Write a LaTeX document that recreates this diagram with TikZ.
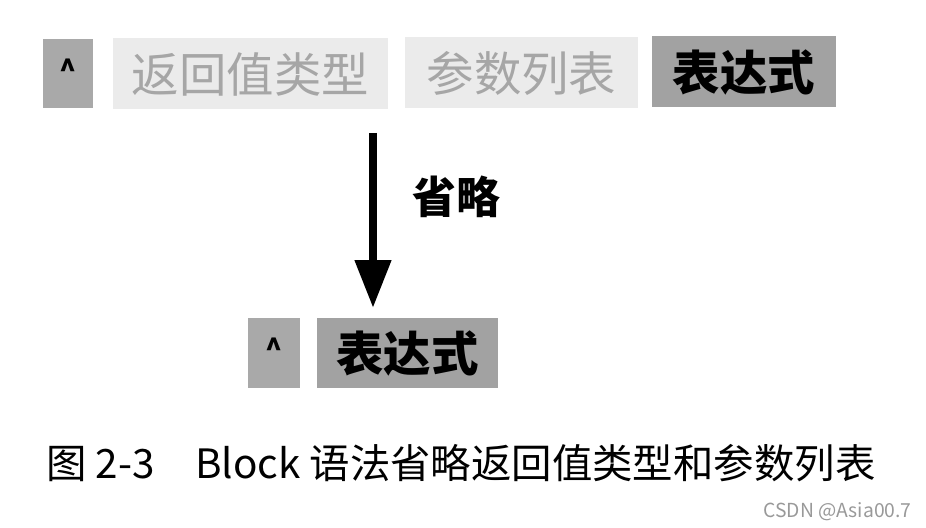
\documentclass[tikz,border=0pt]{standalone}
\usepackage{fontspec}
\setmainfont{Noto Sans CJK SC}
\usepackage{tikz}
\usetikzlibrary{positioning, arrows.meta}

\definecolor{caretgray}{HTML}{A9A9A9}
\definecolor{darkbox}{HTML}{A2A2A2}
\definecolor{lightbox}{HTML}{EBEBEB}
\definecolor{lighttext}{HTML}{A6A6A6}
\definecolor{marktext}{HTML}{999999}

\begin{document}
\begin{tikzpicture}[node distance=0cm,
  caretbox/.style={fill=caretgray, minimum width=1cm, minimum height=1.38cm, inner sep=0pt, font=\bfseries\fontsize{16}{18}\selectfont},
  omitbox/.style={fill=lightbox, text=lighttext, minimum height=1.42cm, inner sep=0pt, font=\fontsize{27}{30}\selectfont},
  exprbox/.style={fill=darkbox, text=black, minimum height=1.42cm, inner sep=0pt, font=\bfseries\fontsize{27}{30}\selectfont}]

% Manually size the picture
\useasboundingbox (0, 0) rectangle (18.52, 10.56);

% Full form
\node[caretbox] (caretA) at (1.36, 9.08) {\raisebox{0.6ex}{\textasciicircum}};
\node[omitbox, minimum width=5.5cm] (rettype) at (5.01, 9.08) {返回值类型};
\node[omitbox, minimum width=4.66cm] (params) at (10.43, 9.1) {参数列表};
\node[exprbox, minimum width=3.68cm] (exprA) at (14.88, 9.12) {表达式};

% Short form
\node[caretbox, minimum width=1.04cm, minimum height=1.4cm] (caretB) at (5.48, 3.5) {\raisebox{0.6ex}{\textasciicircum}};
\node[exprbox, minimum width=3.62cm, minimum height=1.4cm] (exprB) at (8.15, 3.5) {表达式};

% Arrow
\coordinate (arrowtop) at (7.46, 7.9);
\draw[line width=4pt, -{Triangle[width=20pt, length=27pt]}, shorten >=0.2cm] (arrowtop) -- (arrowtop |- exprB.north);
\node[font=\bfseries\fontsize{25}{28}\selectfont] (omit) at (9.12, 6.62) {省略};

% Caption
\node[anchor=west, inner sep=0pt, font=\fontsize{23}{25}\selectfont] (caption) at (0.92, 1.3) {图 2-3\hspace{1em}Block 语法省略返回值类型和参数列表};
\node[anchor=east, inner sep=0pt, text=marktext, font=\fontsize{11}{13}\selectfont] (mark) at (18.24, 0.32) {CSDN @Asia00.7};

\end{tikzpicture}
\end{document}
